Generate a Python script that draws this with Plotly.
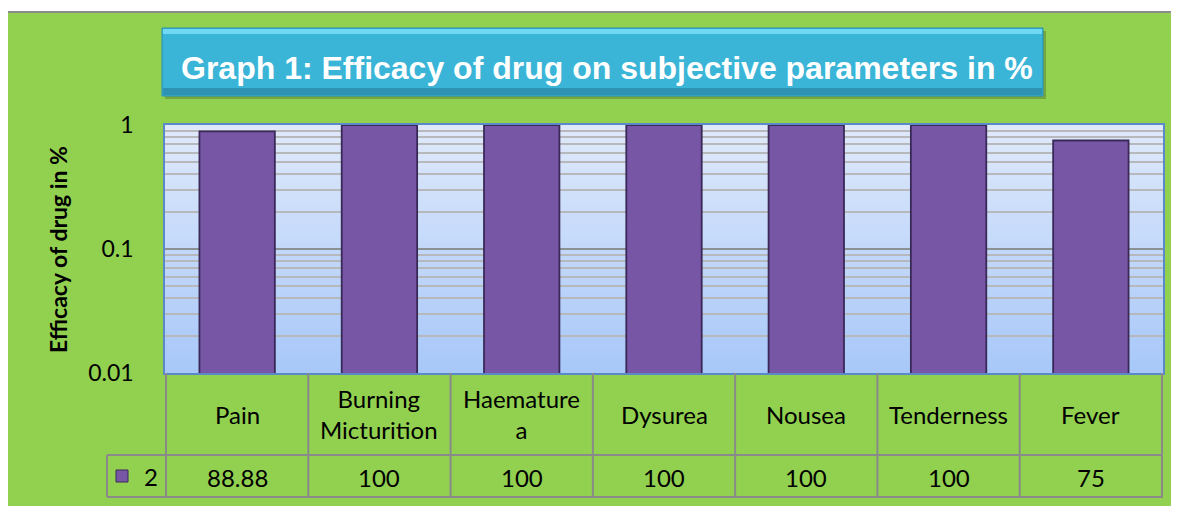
import plotly.graph_objects as go

categories = ["Pain", "Burning Micturition", "Haemature a", "Dysurea", "Nousea", "Tenderness", "Fever"]
cat_labels = ["Pain", "Burning<br>Micturition", "Haemature<br>a", "Dysurea", "Nousea", "Tenderness", "Fever"]
efficacy_pct = [88.88, 100, 100, 100, 100, 100, 75]
series_name = "2"
y_tickvals = [0.01, 0.1, 1]
y_ticktext = ["0.01", "0.1", "1"]
title_text = "Graph 1: Efficacy of drug on subjective parameters in %"
y_title = "Efficacy of drug in %"

OFF = 8  # page body margin
W, H = 1179 - OFF, 506 - OFF
# plot area in reference pixels
RL, RR, RT, RB = 165, 1163, 125, 373
PL, PR, PT, PB = RL - OFF, RR - OFF, RT - OFF, RB - OFF


def px(x):  # reference pixel x -> paper
    return (x - RL) / (RR - RL)


def py(y):  # reference pixel y -> paper
    return (RB - y) / (RB - RT)


BAR = "#7656a5"
BAR_EDGE = "#3a2958"

fig = go.Figure()
fig.add_trace(go.Bar(
    x=categories, y=[v / 100 for v in efficacy_pct], name=series_name,
    width=0.53,
    marker=dict(color=BAR, line=dict(color=BAR_EDGE, width=1.8)),
    showlegend=False,
))

shapes = []
# white top strip and outer border
shapes.append(dict(type="rect", xref="paper", yref="paper", x0=px(0), x1=px(1200), y0=py(0), y1=py(12),
                   fillcolor="white", line=dict(width=0), layer="below"))
shapes.append(dict(type="line", xref="paper", yref="paper", x0=px(6), x1=px(1200), y0=py(12), y1=py(12),
                   line=dict(color="#8c8c8c", width=2)))

# plot background gradient
n = 40
c0 = (0xdf, 0xe9, 0xfa)
c1 = (0xa8, 0xc8, 0xf9)
for i in range(n):
    t = i / (n - 1)
    c = tuple(int(round(c0[k] + (c1[k] - c0[k]) * t)) for k in range(3))
    shapes.append(dict(type="rect", xref="paper", yref="paper", x0=0, x1=1,
                       y0=1 - (i + 1) / n, y1=1 - i / n + 0.002,
                       fillcolor="rgb(%d,%d,%d)" % c, line=dict(width=0), layer="below"))

# title box (shadow, body, highlight)
shapes.append(dict(type="rect", xref="paper", yref="paper", x0=px(165), x1=px(1046), y0=py(99), y1=py(31),
                   fillcolor="rgba(60,90,40,0.35)", line=dict(width=0)))
shapes.append(dict(type="rect", xref="paper", yref="paper", x0=px(162), x1=px(1043), y0=py(96), y1=py(28),
                   fillcolor="#3ab5d7", line=dict(color="#2a8fae", width=1)))
shapes.append(dict(type="rect", xref="paper", yref="paper", x0=px(163), x1=px(1042), y0=py(34), y1=py(29),
                   fillcolor="#6fd8f2", line=dict(width=0)))
shapes.append(dict(type="rect", xref="paper", yref="paper", x0=px(163), x1=px(1042), y0=py(95), y1=py(88),
                   fillcolor="#2e93b2", line=dict(width=0)))

# data table grid
grid = dict(color="#8a8a8a", width=2)
for i in range(len(categories) + 1):
    shapes.append(dict(type="line", xref="x", yref="paper", x0=i - 0.5, x1=i - 0.5,
                       y0=py(373), y1=py(497), line=grid))
shapes.append(dict(type="line", xref="paper", yref="paper", x0=px(107), x1=1, y0=py(455), y1=py(455), line=grid))
shapes.append(dict(type="line", xref="paper", yref="paper", x0=px(107), x1=1, y0=py(497), y1=py(497), line=grid))
shapes.append(dict(type="line", xref="paper", yref="paper", x0=px(107), x1=px(107), y0=py(455), y1=py(497), line=grid))
# legend key
shapes.append(dict(type="rect", xref="paper", yref="paper", x0=px(116), x1=px(128), y0=py(482), y1=py(470),
                   fillcolor=BAR, line=dict(color=BAR_EDGE, width=1)))

annotations = []
annotations.append(dict(text="<b>" + title_text + "</b>", xref="paper", yref="paper",
                        x=px(607), y=py(68), showarrow=False, xanchor="center", yanchor="middle",
                        font=dict(family="Liberation Sans, Arial", size=32, color="white")))
annotations.append(dict(text="<b>" + y_title + "</b>", xref="paper", yref="paper",
                        x=px(58), y=py(250), textangle=-90, showarrow=False,
                        xanchor="center", yanchor="middle",
                        font=dict(family="Lato, Open Sans", size=23, color="black")))
cell_font = dict(family="Lato, Open Sans", size=24, color="black")
for cat, lab, v in zip(categories, cat_labels, efficacy_pct):
    annotations.append(dict(text=lab, xref="x", yref="paper", x=cat, y=py(414), showarrow=False,
                            xanchor="center", yanchor="middle", font=cell_font))
    annotations.append(dict(text=("%g" % v), xref="x", yref="paper", x=cat, y=py(477), showarrow=False,
                            xanchor="center", yanchor="middle", font=cell_font))
annotations.append(dict(text=series_name, xref="paper", yref="paper", x=px(151), y=py(476), showarrow=False,
                        xanchor="center", yanchor="middle", font=cell_font))

fig.update_layout(
    width=W, height=H,
    margin=dict(l=PL, r=W - PR, t=PT, b=H - PB, pad=0),
    paper_bgcolor="#92d050",
    plot_bgcolor="#c5d9f8",
    shapes=shapes,
    annotations=annotations,
    bargap=0.47,
)
fig.update_xaxes(showticklabels=False, ticks="", showgrid=False,
                 showline=True, linecolor="#5a88c8", linewidth=1.5, mirror=True, zeroline=False)
fig.update_yaxes(type="log", range=[-2, 0], tickvals=y_tickvals, ticktext=y_ticktext,
                 ticks="outside", ticklen=25, tickcolor="rgba(0,0,0,0)",
                 tickfont=dict(family="Lato, Open Sans", size=23, color="black"),
                 showgrid=True, gridcolor="#8a9294", gridwidth=2,
                 showline=True, linecolor="#5a88c8", linewidth=1.5, mirror=True, zeroline=False,
                 minor=dict(tickvals=[0.02, 0.03, 0.04, 0.05, 0.06, 0.07, 0.08, 0.09,
                                      0.2, 0.3, 0.4, 0.5, 0.6, 0.7, 0.8, 0.9],
                            showgrid=True, gridcolor="#b6b8bb", gridwidth=2, ticks=""))

fig.write_html("out.html")
